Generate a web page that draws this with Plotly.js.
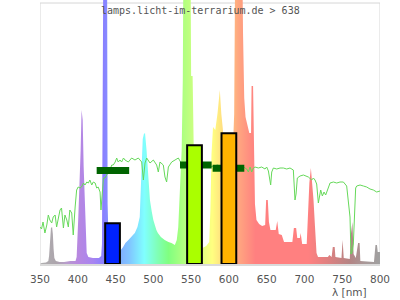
<!DOCTYPE html>
<html><head><meta charset="utf-8">
<script src="https://cdn.plot.ly/plotly-3.0.1.min.js"></script>
<style>html,body{margin:0;padding:0;background:#fff}#c{width:400px;height:300px}</style>
</head><body><div id="c"></div>
<script>
// lamp spectrum (wavelength nm, relative intensity)
const specX = [350,352,358,361,362,363,364.5,366,367,368,369,371,376,382,390,397,398.5,400.7,402,403.8,405,406.5,407.8,409,410.5,411.8,414,420,428,431,432,433,433.8,438.8,439.5,441,445,452,457,460,463,467,471,475.5,479,482,484.5,486,487.5,489,491,493,495.5,498,500,504,506,510,515,520,524,528.5,531,533,535,537.5,539,539.8,549.3,550,552,553,555,560,565,570,574,575.5,577,579,582,585,588,590,592,595,600,605,607,608.3,617.8,618.7,620.3,622,624.5,627,629.3,630,632,633,634.5,636.5,640,644,648,649.3,651.5,653,655,662,664,666,670,673,684,686,689,690.5,694,695,697,703,705,706.5,708.5,710,712,714,716,718,731,733,736,737.5,740,741,749,750.5,752,760,761.5,763.5,765,768,771,773,774,792,794,796,797,800];
const specY = [0,1,1.5,3,8,20,36,37,30,15,6,3,2,2,3,3,7,47,70,114,154,144,97,64,31,11,7,6,6,8,20,127,300,300,60,14,12,12,14,17,21,24,27,31,37,47,97,125,130,131,114,91,64,52,44,34,31,27,24,22,21,19,24,37,71,114,184,300,300,188,188,150,40,20,16,18,22,54,110,137,134,151,174,150,135,100,90,110,150,300,300,231,166,147,137,131,131,178,178,129,60,44,40,38,39,64,64,42,34,34,43,30,29,22,22,36,36,26,26,31,20,20,50,81,96,84,64,37,11,7,7,9,7,17,17,7,6,24,6,5,30,42,10,6,21,21,3,2,19,19,12,12];

// reference daylight curve
const sunX = [350,352,354,356.5,359,361,363,365.5,367.5,370,372,374.5,376.5,378.5,381,383,385.5,387.5,389.5,392,394,396.5,398.5,400.5,403,405,407.5,409.5,412,414,416,418.5,420.5,423,425,427,429.5,430.7,432.5,434,436,438,440.5,442.5,445,447,449.5,451.5,453.5,456,458,460.5,462.5,466.9,471.3,475.7,480.1,484.6,486.8,489,491.2,495.6,500,504.4,506.6,508.8,513.2,515.4,517.6,519.9,524.3,528.7,533.1,537.5,562,565,570,575,580,585,588,610.3,614.8,619.2,623.6,625.8,628,630.2,632.4,634.6,639,643.4,647.8,650,652.3,654.5,655.3,656.7,658.9,663.3,667.7,672.1,676.5,680.9,685.3,687.5,688.9,690.6,694.2,698.6,703,705.2,709.6,711.8,714,716.2,718.4,721.5,723.7,725.9,728.1,730.3,733.9,738.3,742.7,747.1,751.5,755.9,758.1,760.3,761.6,763,764.7,766,767.8,769.2,773.6,778,782.4,786.8,791.2,795.6,800];
const sunY = [37,35,42,31,39,49,44,41,47,49,37,46,54,56,36,49,44,37,54,51,29,57,74,77,76,77,81,79,82,81,84,79,82,81,76,77,72,54,71,86,86,89,92,94,99,99,102,106,102,104,102,106,104,102,106,104,106,102,84,101,106,101,104,99,92,102,99,87,82,97,102,104,106,100,99,99,98,97,98,99,98,97,95,97,95,92,97,92,96,97,96,97,95,97,93,85,79,92,96,95,96,96,95,96,94,64,70,86,88,89,88,87,84,86,84,80,61,74,68,72,69,74,81,82,81,82,82,78,60,47,10,12,20,51,76,78,79,78,77,75,74,72,73];

// colour-range averages (dark green bands)
const bandStart = [425, 535.3, 578.5];
const bandEnd = [468, 577.2, 620.4];
const bandValue = [93.5, 99, 95.7];

// colour summary bars
const barCenter = [446, 554.5, 600];
const barValue = [40.7, 118.7, 130.7];
const barColors = ['#0022ff', '#aaff00', '#ffb400'];

const xTicks = [350,400,450,500,550,600,650,700,750,800];
const titleText = 'lamps.licht-im-terrarium.de > 638';
const xTitle = 'λ [nm]';

// spectral colouring of the fill (style)
const stopNm = [350,372,385,400,420,434,448,468,488,505,520,540,560,578,597,612,635,705,730,760,780,800];
const stopCol = ['#b0b0b0','#aca4ac','#b89ccc','#b888e0','#a884f0','#8a80ff','#80a0ff','#80c4ff','#80ffff','#80ffb8','#80ff80','#b0ff80','#d8ff80','#ffff80','#ffd080','#ffa880','#ff8080','#ff8080','#e08080','#b48484','#a89898','#a0a0a0'];
const colorscale = stopNm.map((n,i)=>[(n-350)/450, stopCol[i]]);

const traces = [];
traces.push({
  type:'scatter', mode:'lines', x:specX, y:specY,
  line:{width:0, color:'rgba(0,0,0,0)'}, fill:'tozeroy',
  fillgradient:{type:'horizontal', colorscale:colorscale, start:350, stop:800},
  hoverinfo:'skip', showlegend:false
});
traces.push({
  type:'scatter', mode:'lines', x:sunX, y:sunY,
  line:{width:1, color:'#66d95a'}, hoverinfo:'skip', showlegend:false
});
bandStart.forEach((s,i)=>{
  traces.push({type:'scatter', mode:'lines', x:[s, bandEnd[i]], y:[bandValue[i], bandValue[i]],
    line:{width:7, color:'#006400'}, hoverinfo:'skip', showlegend:false});
});
traces.push({
  type:'bar', x:barCenter, y:barValue, width:19.5, xaxis:'x2', yaxis:'y2',
  marker:{color:barColors, line:{color:'#000', width:2}},
  hoverinfo:'skip', showlegend:false
});

const frame = {color:'#d6d6d6', width:1};
const layout = {
  width:400, height:300,
  margin:{l:40, r:20, t:0, b:36, pad:0},
  paper_bgcolor:'#fff', plot_bgcolor:'rgba(0,0,0,0)',
  showlegend:false, bargap:0,
  xaxis:{range:[350,800], tickvals:xTicks, ticktext:xTicks.map(String), ticks:'',
    showgrid:false, zeroline:false, showline:true, linecolor:'#dadada', linewidth:2,
    tickfont:{family:'DejaVu Sans', size:10.5, color:'#555'}, ticklabelstandoff:4, fixedrange:true},
  yaxis:{range:[0,264], showgrid:false, zeroline:false, showticklabels:false, ticks:'', showline:false, fixedrange:true},
  xaxis2:{overlaying:'x', range:[350,800], visible:false, fixedrange:true},
  yaxis2:{overlaying:'y', range:[0,264], visible:false, fixedrange:true},
  shapes:[
    {type:'line', xref:'x', yref:'y', x0:350, x1:350, y0:0, y1:261, line:frame, layer:'below'},
    {type:'line', xref:'x', yref:'y', x0:800, x1:800, y0:0, y1:261, line:frame, layer:'below'},
    {type:'line', xref:'x', yref:'y', x0:350, x1:800, y0:261, y1:261, line:frame, layer:'below'}
  ],
  annotations:[
    {text:titleText, xref:'paper', yref:'paper', x:0.4726, y:1-11/264, xanchor:'center', yanchor:'middle',
     showarrow:false, font:{family:'DejaVu Sans Mono', size:10, color:'#555'}},
    {text:xTitle, xref:'paper', yref:'paper', x:(369-40)/340, y:-(292-264)/264, xanchor:'right', yanchor:'middle',
     showarrow:false, font:{family:'DejaVu Sans', size:10.5, color:'#555'}}
  ]
};
Plotly.newPlot('c', traces, layout, {staticPlot:true, displayModeBar:false});
</script></body></html>
